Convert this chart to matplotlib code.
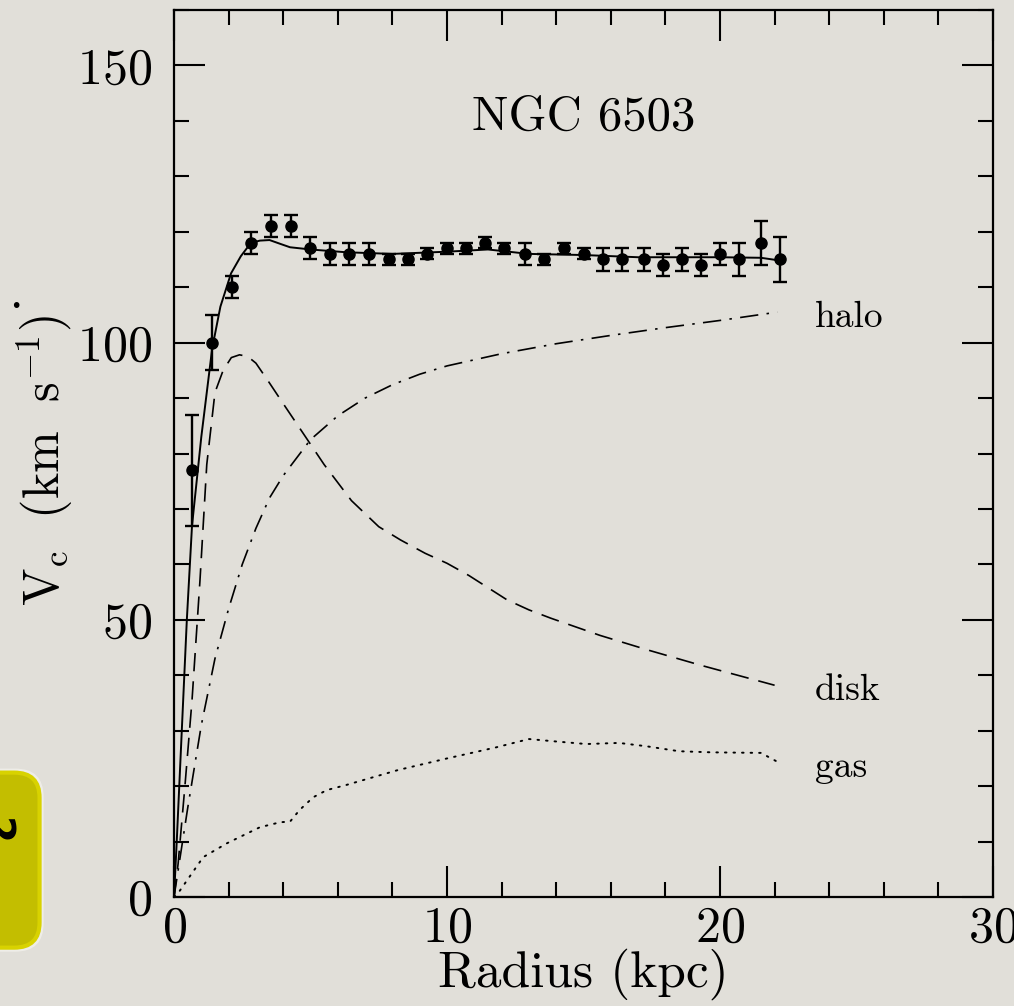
import matplotlib
matplotlib.use('Agg')
import matplotlib.pyplot as plt
from matplotlib.patches import FancyBboxPatch
from matplotlib.ticker import MultipleLocator

plt.rcParams['font.family'] = 'cmr10'
plt.rcParams['mathtext.fontset'] = 'cm'
plt.rcParams['axes.formatter.use_mathtext'] = True

# observed rotation curve
r_obs = [0.66, 1.39, 2.12, 2.82, 3.55, 4.28, 4.98, 5.71, 6.4, 7.14, 7.87, 8.57, 9.27,
         10.0, 10.7, 11.4, 12.1, 12.86, 13.55, 14.3, 15.0, 15.7, 16.4, 17.2, 17.9,
         18.6, 19.3, 20.0, 20.7, 21.5, 22.2]
v_obs = [77, 100, 110, 118, 121, 121, 117, 116, 116, 116, 115, 115, 116,
         117, 117, 118, 117, 116, 115, 117, 116, 115, 115, 115, 114,
         115, 114, 116, 115, 118, 115]
v_err = [10, 5, 2, 2, 2, 2, 2, 2, 2, 2, 1, 1, 1,
         1, 1, 1, 1, 2, 1, 1, 1, 2, 2, 2, 2,
         2, 2, 2, 3, 4, 4]

# total model fit
r_fit = [0, 0.1, 0.47, 0.66, 1.0, 1.25, 1.4, 1.7, 2.09, 2.45, 2.82, 3.15, 3.5, 3.9,
         4.25, 5.0, 6.3, 8.0, 10.0, 11.5, 13.0, 15.0, 17.0, 20.0, 21.5, 22.2]
v_fit = [0, 10, 50, 67, 83, 93, 99, 106.5, 112.5, 115.6, 118, 118.4, 118.5, 117.8,
         117.2, 116.8, 116.3, 116.0, 116.4, 116.8, 116.0, 115.8, 115.4, 115.4, 115.3, 114.8]

# halo component
r_halo = [0, 0.5, 1.0, 1.5, 2.0, 2.5, 3.0, 3.5, 4.0, 5.0, 6.0, 7.0, 8.0, 9.0,
          10.0, 12.0, 14.0, 16.0, 18.0, 20.0, 22.1]
v_halo = [0, 16, 31, 43, 52, 60, 66.5, 72, 76, 82.5, 86.8, 90, 92.4, 94.3,
          95.8, 98, 99.8, 101.3, 102.7, 104, 105.5]

# stellar disk component
r_disk = [0, 0.15, 0.4, 0.66, 0.95, 1.2, 1.5, 1.8, 2.1, 2.4, 2.7, 3.0, 3.5, 4.0,
          4.9, 5.5, 6.5, 7.5, 8.3, 9.2, 10.0, 10.8, 11.5, 12.2, 13.0, 13.8,
          15.6, 17.4, 19.3, 22.0]
v_disk = [0, 6, 20, 35.5, 57, 78, 91, 95, 97.3, 97.8, 97.5, 96.3, 92.7, 89,
          82.4, 78, 71.5, 66.8, 64.4, 62, 60.2, 58, 55.8, 53.6, 51.8, 50.3,
          47.2, 44.5, 41.8, 38.2]

# gas component
r_gas = [0, 0.15, 1.07, 1.94, 3.15, 3.9, 4.25, 4.6, 5.1, 5.6, 6.3, 8.2, 10.0, 11.8,
         13.0, 13.9, 15.1, 16.3, 17.3, 18.5, 19.7, 21.5, 22.1]
v_gas = [0, 0.7, 7.2, 9.7, 12.6, 13.5, 13.6, 15.7, 18.0, 19.3, 20.2, 22.9, 25.0, 27.0,
         28.5, 28.1, 27.6, 27.8, 27.2, 26.3, 26.1, 26.0, 24.4]

bg = '#e1dfd9'
fig = plt.figure(figsize=(10.14, 10.06), dpi=100, facecolor=bg)
ax = fig.add_axes([0.1716, 0.1083, 0.8077, 0.8818])
ax.set_facecolor(bg)

ax.plot(r_fit, v_fit, color='k', lw=1.4)
ax.plot(r_halo, v_halo, color='k', lw=1.2, linestyle=(0, (11, 5, 1.5, 5)))
ax.plot(r_disk, v_disk, color='k', lw=1.2, linestyle=(0, (11, 6)))
ax.plot(r_gas, v_gas, color='k', lw=1.4, linestyle=(0, (0.8, 3.6)),
        dash_capstyle='round')
ax.errorbar(r_obs, v_obs, yerr=v_err, fmt='o', color='k', ms=8,
            elinewidth=1.7, capsize=5, capthick=1.7)

ax.text(15, 140.5, 'NGC 6503', ha='center', va='center', fontsize=35)
ax.text(23.48, 102.9, 'halo', ha='left', va='baseline', fontsize=27)
ax.text(23.48, 35.5, 'disk', ha='left', va='baseline', fontsize=27)
ax.text(23.48, 21.6, 'gas', ha='left', va='baseline', fontsize=27)

ax.set_xlim(0, 30)
ax.set_ylim(0, 160)
ax.xaxis.set_major_locator(MultipleLocator(10))
ax.xaxis.set_minor_locator(MultipleLocator(2))
ax.yaxis.set_major_locator(MultipleLocator(50))
ax.yaxis.set_minor_locator(MultipleLocator(10))
ax.tick_params(which='both', direction='in', top=True, right=True, width=1.5)
ax.tick_params(which='major', length=22)
ax.tick_params(which='minor', length=11)
ax.tick_params(axis='x', labelsize=36, pad=6)
ax.tick_params(axis='y', labelsize=36, pad=16)
for s in ax.spines.values():
    s.set_linewidth(1.6)

ax.set_xlabel('Radius (kpc)', fontsize=37, labelpad=-2)
fig.text(45 / 1014, 1 - 460 / 1006, r'$\mathrm{V_c\ \ (km\ \ s^{-1})}$',
         rotation=90, ha='center', va='center', fontsize=36)
fig.text(16 / 1014, 1 - 306 / 1006, '\u2022', ha='center', va='center',
         fontsize=14, family='DejaVu Sans')

# slide number tab at the left edge
glow = FancyBboxPatch((-0.044, 0.054), 0.087, 0.182, transform=fig.transFigure,
                      boxstyle='round,pad=0,rounding_size=0.028',
                      facecolor='#f2f1ec', edgecolor='none', alpha=0.8)
fig.patches.append(glow)
tab = FancyBboxPatch((-0.04, 0.058), 0.079, 0.174, transform=fig.transFigure,
                     boxstyle='round,pad=0,rounding_size=0.025',
                     facecolor='#c3be00', edgecolor='#d8d200', lw=3)
fig.patches.append(tab)
fig.text(-6 / 1014, 1 - 832 / 1006, '2', rotation=-90, ha='center', va='center',
         fontsize=28, fontweight='bold', family='DejaVu Sans')

fig.savefig('out.png', dpi=100, facecolor=bg)
